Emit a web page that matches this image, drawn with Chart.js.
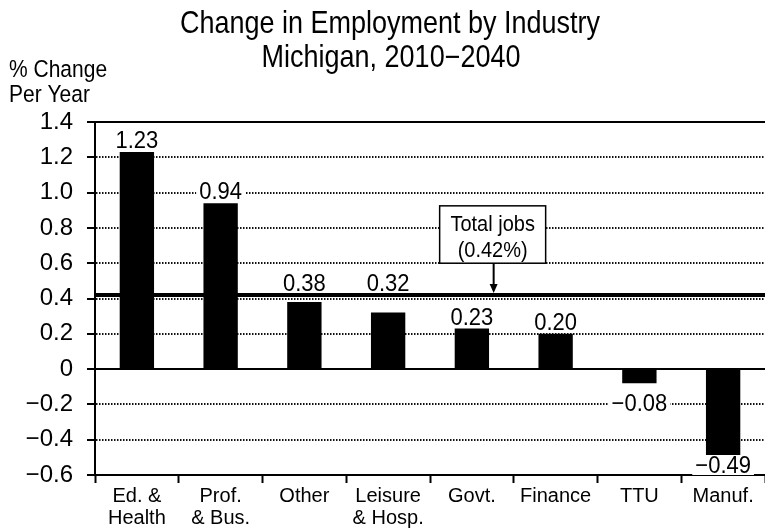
<!DOCTYPE html>
<html>
<head>
<meta charset="utf-8">
<script src="https://cdn.jsdelivr.net/npm/chart.js@4"></script>
<style>
  body { margin: 0; background: #fff; }
  #wrap { width: 765px; height: 532px; }
</style>
</head>
<body>
<div id="wrap"><canvas id="myChart" width="765" height="532"></canvas></div>
<script>
// Chart data
var industries = [['Ed. &', 'Health'], ['Prof.', '& Bus.'], 'Other', ['Leisure', '& Hosp.'], 'Govt.', 'Finance', 'TTU', 'Manuf.'];
var changePerYear = [1.23, 0.94, 0.38, 0.32, 0.23, 0.20, -0.08, -0.49];
var totalJobs = 0.42;
var yMin = -0.6, yMax = 1.4, yStep = 0.2;

var FONT = "'Liberation Sans', Arial, sans-serif";
var MINUS = '\u2212';

function fmt(v, digits) {
    if (Math.abs(v) < 1e-9) return '0';
    return (v < 0 ? MINUS : '') + Math.abs(v).toFixed(digits);
}

// text drawn a little taller than wide, like the original
function tallText(ctx, txt, x, y, stretch) {
    ctx.save();
    ctx.translate(x, y);
    ctx.scale(1, stretch || 1.1);
    ctx.fillText(txt, 0, 0);
    ctx.restore();
}

// draws titles, zero line, total jobs line + callout and value labels
var extras = {
    id: 'extras',
    afterDatasetsDraw: function (chart) {
        var ctx = chart.ctx;
        var area = chart.chartArea;
        var x = chart.scales.x, y = chart.scales.y;
        var ty = y.getPixelForValue(totalJobs);
        ctx.save();

        // value labels
        ctx.font = '22px ' + FONT;
        ctx.textAlign = 'center';
        ctx.textBaseline = 'alphabetic';
        var meta = chart.getDatasetMeta(0);
        meta.data.forEach(function (bar, i) {
            var v = changePerYear[i];
            var txt = fmt(v, 2);
            var w = ctx.measureText(txt).width;
            var base;
            if (v >= 0) {
                base = bar.y - 4;
                // keep clear of the total jobs line
                if (bar.y > ty && base - 18 < ty + 3) base = ty - 4;
            } else {
                base = bar.y + 28;
                if (base > area.bottom - 2) base = area.bottom - 2;
            }
            ctx.fillStyle = '#fff';
            ctx.fillRect(bar.x - w / 2 - 3, base - 18, w + 6, 20);
            ctx.fillStyle = '#000';
            tallText(ctx, txt, bar.x, base, 1.08);
        });

        // top line, zero line
        ctx.strokeStyle = '#000';
        ctx.lineWidth = 2;
        ctx.beginPath();
        ctx.moveTo(area.left, area.top);
        ctx.lineTo(area.right, area.top);
        ctx.moveTo(area.left, y.getPixelForValue(0));
        ctx.lineTo(area.right, y.getPixelForValue(0));
        ctx.stroke();

        // total jobs line
        ctx.lineWidth = 4;
        ctx.beginPath();
        ctx.moveTo(area.left, ty);
        ctx.lineTo(area.right, ty);
        ctx.stroke();

        // callout for total jobs
        var cw = x.getPixelForValue(1) - x.getPixelForValue(0);
        var ax = x.getPixelForValue(4) + cw * 0.26;
        var boxTop = y.getPixelForValue(0.925);
        var boxBot = y.getPixelForValue(0.60);
        var boxL = ax - 54, boxW = 106;
        ctx.fillStyle = '#fff';
        ctx.fillRect(boxL, boxTop, boxW, boxBot - boxTop);
        ctx.lineWidth = 1.5;
        ctx.strokeStyle = '#000';
        ctx.strokeRect(boxL, boxTop, boxW, boxBot - boxTop);
        ctx.fillStyle = '#000';
        ctx.font = '20px ' + FONT;
        tallText(ctx, 'Total jobs', ax - 1, boxTop + 25);
        tallText(ctx, '(' + totalJobs.toFixed(2) + '%)', ax - 1, boxTop + 51);
        ctx.lineWidth = 2;
        ctx.beginPath();
        ctx.moveTo(ax, boxBot);
        ctx.lineTo(ax, ty - 5);
        ctx.stroke();
        ctx.beginPath();
        ctx.moveTo(ax - 4, ty - 11);
        ctx.lineTo(ax + 4, ty - 11);
        ctx.lineTo(ax, ty - 2);
        ctx.closePath();
        ctx.fill();

        // titles
        ctx.font = '27px ' + FONT;
        tallText(ctx, 'Change in Employment by Industry', 390, 33, 1.13);
        tallText(ctx, 'Michigan, 2010' + MINUS + '2040', 391, 67, 1.13);
        ctx.textAlign = 'left';
        ctx.font = '21px ' + FONT;
        tallText(ctx, '% Change', 9, 77);
        tallText(ctx, 'Per Year', 9, 102);
        ctx.restore();
    }
};

var ctx = document.getElementById('myChart').getContext('2d');
var myChart = new Chart(ctx, {
    type: 'bar',
    data: {
        labels: industries,
        datasets: [{
            data: changePerYear,
            backgroundColor: '#000',
            borderWidth: 0,
            categoryPercentage: 1,
            barPercentage: 0.41
        }]
    },
    options: {
        responsive: false,
        animation: false,
        layout: { padding: { top: 122, right: -6, bottom: 0, left: 0 } },
        plugins: {
            legend: { display: false },
            title: { display: false },
            tooltip: { enabled: false }
        },
        scales: {
            x: {
                grid: {
                    drawOnChartArea: false,
                    drawTicks: true,
                    tickLength: 8,
                    tickColor: '#000',
                    tickWidth: 2
                },
                border: { display: true, color: '#000', width: 2 },
                ticks: {
                    color: '#000',
                    font: { family: FONT, size: 20, lineHeight: 1.1 },
                    padding: 2,
                    maxRotation: 0,
                    autoSkip: false
                },
                afterFit: function (scale) { scale.height = 57; }
            },
            y: {
                min: yMin,
                max: yMax,
                grid: {
                    color: function (c) {
                        var v = c.tick ? c.tick.value : 0;
                        if (Math.abs(v) < 1e-9 || v > yMax - 0.01 || v < yMin + 0.01) return 'rgba(0,0,0,0)';
                        return '#111';
                    },
                    lineWidth: 2,
                    drawTicks: true,
                    tickLength: 8,
                    tickColor: '#000',
                    tickWidth: 2
                },
                border: { display: true, color: '#000', width: 2, dash: [1.5, 1.5] },
                ticks: {
                    stepSize: yStep,
                    color: '#000',
                    font: { family: FONT, size: 24 },
                    padding: 14,
                    callback: function (v) { return fmt(v, 1); }
                },
                afterFit: function (scale) { scale.width = 95; }
            }
        }
    },
    plugins: [extras]
});
</script>
</body>
</html>
